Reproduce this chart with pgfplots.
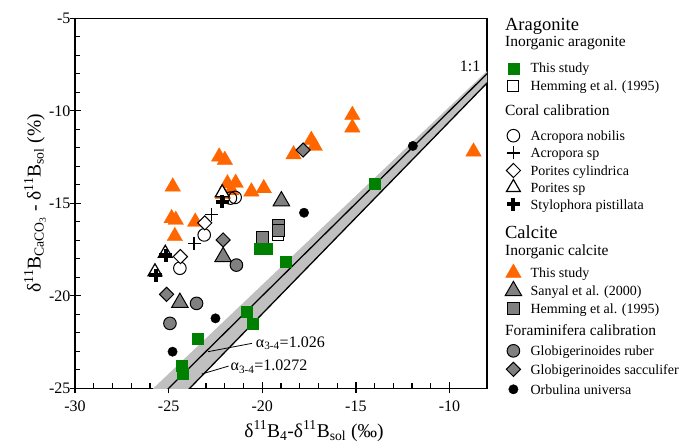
\documentclass[border=0pt]{standalone}
\usepackage{fontspec}
\setmainfont{Liberation Serif}
\usepackage{pgfplots}
\pgfplotsset{compat=1.18}
\definecolor{orangeT}{RGB}{255,102,0}
\definecolor{greenS}{RGB}{0,128,0}
\definecolor{grayM}{RGB}{128,128,128}
\definecolor{bandgray}{RGB}{192,192,192}
\newcommand\myfs[1]{\fontsize{#1bp}{#1bp}\selectfont}
\newcommand\myst[1]{\rule[-4bp]{0pt}{#1bp}}
\newcommand\myhd{\hspace*{-25.5bp}}

% marker styles
\tikzset{
  orT/.style={mark=triangle*, mark size=9bp, mark options={fill=orangeT, draw=orangeT, line width=0.3bp}},
  grS/.style={mark=square*, mark size=5.5bp, mark options={fill=greenS, draw=greenS, line width=0.3bp}},
  whS/.style={mark=square*, mark size=5.5bp, mark options={fill=white, draw=black, line width=1bp}},
  opC/.style={mark=o, mark size=6.3bp, mark options={draw=black, line width=1bp}},
  thP/.style={mark=+, mark size=6.5bp, mark options={draw=black, line width=1.5bp}},
  opD/.style={mark=square*, mark size=5bp, mark options={rotate=45, fill=white, draw=black, line width=1bp}},
  opT/.style={mark=triangle*, mark size=8bp, mark options={fill=white, draw=black, line width=1.2bp}},
  tkP/.style={mark=+, mark size=6.5bp, mark options={draw=black, line width=4bp}},
  gyT/.style={mark=triangle*, mark size=9.5bp, mark options={fill=grayM, draw=black, line width=1bp}},
  gyS/.style={mark=square*, mark size=6bp, mark options={fill=grayM, draw=black, line width=1bp}},
  gyC/.style={mark=*, mark size=6.3bp, mark options={fill=grayM, draw=black, line width=1bp}},
  gyD/.style={mark=square*, mark size=5bp, mark options={rotate=45, fill=grayM, draw=black, line width=1bp}},
  bkC/.style={mark=*, mark size=4.7bp, mark options={fill=black, draw=black}},
}

\begin{document}
\begin{tikzpicture}
\begin{axis}[
  at={(0,0)}, anchor=south west,
  scale only axis, width=412bp, height=370bp,
  xmin=-30, xmax=-8, ymin=-25, ymax=-5,
  xtick={-30,-25,...,-10}, ytick={-25,-20,...,-5},
  minor x tick num=4, minor y tick num=4,
  xtick pos=left, ytick pos=left,
  tick align=inside,
  major tick length=6bp, minor tick length=5bp,
  every tick/.style={black, line width=1.2bp},
  axis line style={line width=1.5bp},
  extra x ticks={-30,-25,...,-10}, extra x tick labels={},
  extra x tick style={tick align=outside, major tick length=5bp},
  extra y ticks={-25,-20,...,-5}, extra y tick labels={},
  extra y tick style={tick align=outside, major tick length=5bp},
  /pgf/number format/assume math mode=true,
  tick label style={font=\fontsize{16bp}{16bp}\selectfont},
  xticklabel style={yshift=-9bp},
  yticklabel style={xshift=-1bp},
  xlabel={δ\textsuperscript{11}B\textsubscript{4}-δ\textsuperscript{11}B\textsubscript{sol} (‰)},
  ylabel={δ\textsuperscript{11}B\textsubscript{CaCO\textsubscript{3}} - δ\textsuperscript{11}B\textsubscript{sol} (\%)},
  xlabel style={font=\fontsize{19.5bp}{20bp}\selectfont, at={(axis description cs:0.58,0)}, anchor=base, yshift=-49bp},
  ylabel style={font=\fontsize{19.5bp}{20bp}\selectfont, at={(axis description cs:-0.097,0.5)}, anchor=center},
  legend style={at={(axis description cs:1.0425,1.0056)}, anchor=north west,
    draw=none, fill=none, inner sep=0pt, row sep=0pt, column sep=8.5bp,
    font=\fontsize{14bp}{14bp}\selectfont, cells={anchor=base west}, nodes={inner sep=0pt}},
  legend image code/.code={%
    \begin{pgfinterruptboundingbox}
    \draw[#1] plot coordinates {(8.5bp,4.7bp)};
    \end{pgfinterruptboundingbox}
    \path (0bp,0bp) (17bp,0bp);},
]

% legend
\addlegendimage{empty legend}\addlegendentry{\myhd\myfs{18.5}Aragonite\myst{18}}
\addlegendimage{empty legend}\addlegendentry{\myhd\myfs{15.5}Inorganic aragonite\myst{19}}
\addlegendimage{grS}\addlegendentry{This study\myst{28.5}}
\addlegendimage{whS}\addlegendentry{Hemming et al. (1995)\myst{20}}
\addlegendimage{empty legend}\addlegendentry{\myhd\myfs{15.5}Coral calibration\myst{28}}
\addlegendimage{opC}\addlegendentry{Acropora nobilis\myst{27}}
\addlegendimage{thP}\addlegendentry{Acropora sp\myst{19.8}}
\addlegendimage{opD}\addlegendentry{Porites cylindrica\myst{20}}
\addlegendimage{opT}\addlegendentry{Porites sp\myst{19.5}}
\addlegendimage{tkP}\addlegendentry{Stylophora pistillata\myst{19.4}}
\addlegendimage{empty legend}\addlegendentry{\myhd\myfs{18.5}Calcite\myst{31.5}}
\addlegendimage{empty legend}\addlegendentry{\myhd\myfs{15.5}Inorganic calcite\myst{19.5}}
\addlegendimage{orT}\addlegendentry{This study\myst{25}}
\addlegendimage{gyT}\addlegendentry{Sanyal et al. (2000)\myst{20.5}}
\addlegendimage{gyS}\addlegendentry{Hemming et al. (1995)\myst{20}}
\addlegendimage{empty legend}\addlegendentry{\myhd\myfs{15.5}Foraminifera calibration\myst{25}}
\addlegendimage{gyC}\addlegendentry{Globigerinoides ruber\myst{22.5}}
\addlegendimage{gyD}\addlegendentry{Globigerinoides sacculifer\myst{21}}
\addlegendimage{bkC}\addlegendentry{Orbulina universa\myst{22.5}}

% band and lines
\addplot[forget plot, draw=none, fill=bandgray] coordinates {(-27,-26.14) (-7,-6.89) (-7,-7.46) (-25,-26.17) (-27,-26.14)};
\addplot[forget plot, black, line width=1.3bp] coordinates {(-26,-26) (-7,-7)};
\addplot[forget plot, black, line width=1.3bp] coordinates {(-25,-26.17) (-7,-7.46)};
\addplot[forget plot, black, line width=0.8bp] coordinates {(-22.89,-23.02) (-20.55,-22.57)};
\addplot[forget plot, black, line width=0.8bp] coordinates {(-23.24,-24.23) (-21.8,-23.8)};
\node[anchor=base west, inner sep=0pt, font=\fontsize{16bp}{16bp}\selectfont] at (axis cs:-20.35,-22.77) {α\textsubscript{3-4}=1.026};
\node[anchor=base west, inner sep=0pt, font=\fontsize{16bp}{16bp}\selectfont] at (axis cs:-21.7,-24.06) {α\textsubscript{3-4}=1.0272};
\node[anchor=base east, inner sep=0pt, font=\fontsize{16bp}{16bp}\selectfont] at (axis cs:-8.35,-7.9) {1:1};

% calcite, this study
\addplot[forget plot, only marks, orT] coordinates {
(-15.19,-10.23) (-15.19,-10.91) (-17.38,-11.58) (-17.2,-11.9) (-18.33,-12.36)
(-8.72,-12.21) (-22.30,-12.48) (-22.0,-12.66) (-24.78,-14.10) (-21.86,-13.93)
(-21.42,-13.9) (-21.65,-14.3) (-22.1,-14.5) (-20.58,-14.37) (-19.92,-14.19)
(-24.84,-15.81) (-24.62,-15.9) (-23.58,-16.0) (-24.67,-16.78)
};
% Hemming aragonite
\addplot[forget plot, only marks, whS] coordinates {(-19.16,-16.72)};
% Hemming calcite
\addplot[forget plot, only marks, gyS] coordinates {(-20.0,-16.84) (-19.16,-16.22) (-19.16,-16.48)};
% aragonite, this study
\addplot[forget plot, only marks, grS] coordinates {
(-14.0,-13.92) (-18.77,-18.16) (-20.13,-17.43) (-19.78,-17.43) (-20.84,-20.86)
(-20.54,-21.52) (-23.47,-22.30) (-24.31,-23.80) (-24.26,-24.23)
};
% Sanyal
\addplot[forget plot, only marks, gyT] coordinates {(-18.98,-14.88) (-22.09,-17.89) (-24.4,-20.37)};
% G. ruber
\addplot[forget plot, only marks, gyC] coordinates {(-21.38,-18.34) (-23.51,-20.41) (-24.93,-21.49)};
% G. sacculifer
\addplot[forget plot, only marks, gyD] coordinates {(-17.82,-12.12) (-22.09,-16.98) (-25.11,-19.92)};
% Orbulina universa
\addplot[forget plot, only marks, bkC] coordinates {(-11.96,-11.90) (-17.77,-15.51) (-22.50,-21.22) (-24.79,-23.02)};
% Acropora nobilis
\addplot[forget plot, only marks, opC] coordinates {(-21.45,-14.68) (-21.7,-14.72) (-23.10,-16.71) (-24.4,-18.51)};
% Porites cylindrica
\addplot[forget plot, only marks, opD] coordinates {(-23.07,-16.06) (-24.37,-17.88)};
% Acropora sp
\addplot[forget plot, only marks, thP] coordinates {(-22.71,-15.6) (-23.64,-17.16)};
% Porites sp
\addplot[forget plot, only marks, opT] coordinates {(-22.14,-14.43) (-25.18,-17.70) (-25.73,-18.70)};
% Stylophora pistillata
\addplot[forget plot, only marks, tkP] coordinates {(-22.14,-14.91) (-25.15,-17.82) (-25.7,-18.9)};
\end{axis}
\pgfresetboundingbox
\useasboundingbox (-75bp,-54.7bp) rectangle (604bp,388.3bp);
\end{tikzpicture}
\end{document}
